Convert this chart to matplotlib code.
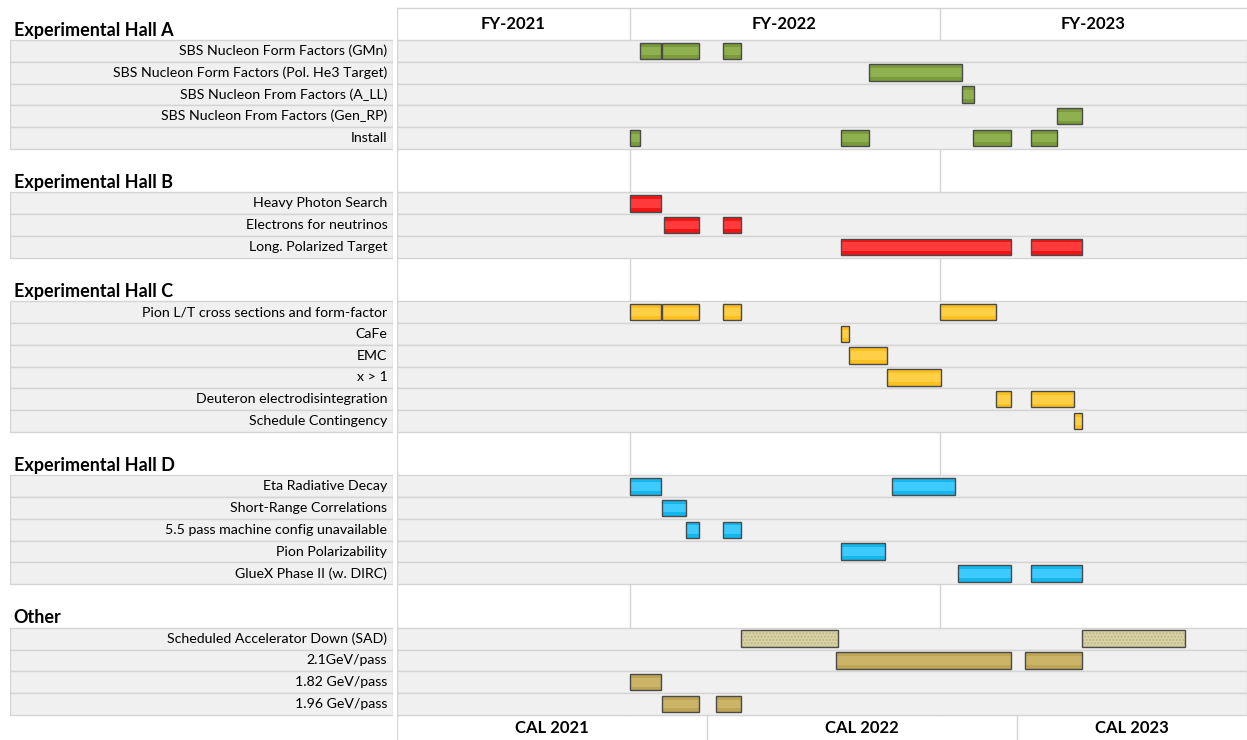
import matplotlib.pyplot as plt
from matplotlib.patches import Rectangle

plt.rcParams['font.family'] = ['Lato', 'DejaVu Sans']

# bars are (start, end) in months counted from Jan 2021
hall_a_labels = ['SBS Nucleon Form Factors (GMn)',
                 'SBS Nucleon Form Factors (Pol. He3 Target)',
                 'SBS Nucleon From Factors (A_LL)',
                 'SBS Nucleon From Factors (Gen_RP)',
                 'Install']
hall_a_bars = [[(9.4, 10.2), (10.25, 11.7), (12.6, 13.3)],
               [(18.25, 21.85)],
               [(21.85, 22.35)],
               [(25.55, 26.5)],
               [(9.0, 9.4), (17.2, 18.25), (22.3, 23.75), (24.55, 25.55)]]

hall_b_labels = ['Heavy Photon Search', 'Electrons for neutrinos', 'Long. Polarized Target']
hall_b_bars = [[(9.0, 10.2)],
               [(10.35, 11.7), (12.6, 13.3)],
               [(17.2, 23.75), (24.55, 26.5)]]

hall_c_labels = ['Pion L/T cross sections and form-factor', 'CaFe', 'EMC', 'x > 1',
                 'Deuteron electrodisintegration', 'Schedule Contingency']
hall_c_bars = [[(9.0, 10.2), (10.25, 11.7), (12.6, 13.3), (21.0, 23.2)],
               [(17.2, 17.5)],
               [(17.5, 18.95)],
               [(18.95, 21.05)],
               [(23.2, 23.75), (24.55, 26.2)],
               [(26.2, 26.5)]]

hall_d_labels = ['Eta Radiative Decay', 'Short-Range Correlations',
                 '5.5 pass machine config unavailable', 'Pion Polarizability',
                 'GlueX Phase II (w. DIRC)']
hall_d_bars = [[(9.0, 10.2), (19.15, 21.6)],
               [(10.25, 11.2)],
               [(11.2, 11.7), (12.6, 13.3)],
               [(17.2, 18.9)],
               [(21.7, 23.75), (24.55, 26.5)]]

other_labels = ['Scheduled Accelerator Down (SAD)', '2.1GeV/pass', '1.82 GeV/pass', '1.96 GeV/pass']
other_bars = [[(13.3, 17.05), (26.5, 30.5)],
              [(17.0, 23.75), (24.3, 26.5)],
              [(9.0, 10.2)],
              [(10.25, 11.7), (12.35, 13.3)]]

fy_labels = ['FY-2021', 'FY-2022', 'FY-2023']
fy_bounds = [0, 9, 21, 32.9]
cal_labels = ['CAL 2021', 'CAL 2022', 'CAL 2023']
cal_bounds = [0, 12, 24, 32.9]

sections = [
    ('Experimental Hall A', hall_a_labels, hall_a_bars, '#7a9a3c', '#8fb04e'),
    ('Experimental Hall B', hall_b_labels, hall_b_bars, '#f01414', '#ff3a3a'),
    ('Experimental Hall C', hall_c_labels, hall_c_bars, '#fcc020', '#ffcf45'),
    ('Experimental Hall D', hall_d_labels, hall_d_bars, '#14b6ee', '#3ccaff'),
    ('Other', other_labels, other_bars, '#bea556', '#cbb468'),
]

W, H = 1247, 740
fig = plt.figure(figsize=(W / 100, H / 100), dpi=100)
ax = fig.add_axes([397 / W, 0, 850 / W, 1])
lab = fig.add_axes([10 / W, 0, 383 / W, 1])

row_px = 21.77
ytop = -40 / row_px
ybot = (H - 40) / row_px
for a in (ax, lab):
    a.set_ylim(ybot, ytop)
    a.axis('off')
ax.set_xlim(0, 32.9)
lab.set_xlim(0, 1)

grid = '#d4d4d4'
rowface = '#f0f0f0'
edge = '#4a4a4a'

last_row = 30
# vertical lines behind rows
for x in [0] + fy_bounds[1:3]:
    ax.plot([x, x], [(8 - 40) / row_px, last_row + 1], color=grid, lw=1, zorder=0)
ax.plot([0, 32.9], [(8 - 40) / row_px] * 2, color=grid, lw=1, zorder=0)
for x in cal_bounds[:3]:
    ax.plot([x, x], [last_row + 1, ybot], color=grid, lw=1, zorder=0)

for i, name in enumerate(fy_labels):
    ax.text((fy_bounds[i] + fy_bounds[i + 1]) / 2, (24 - 40) / row_px, name,
            ha='center', va='center', fontsize=12, fontweight='bold')
for i, name in enumerate(cal_labels):
    ax.text((cal_bounds[i] + cal_bounds[i + 1]) / 2, (728 - 40) / row_px, name,
            ha='center', va='center', fontsize=12, fontweight='bold')

row = -1
for title, labels, bars, color, light in sections:
    lab.text(0.01, row + 0.55, title, ha='left', va='center', fontsize=13, fontweight='bold')
    row += 1
    for name, spans in zip(labels, bars):
        lab.add_patch(Rectangle((0, row), 1, 1, facecolor=rowface, edgecolor=grid, lw=1, zorder=1))
        ax.add_patch(Rectangle((0, row), 32.9, 1, facecolor=rowface, edgecolor=grid, lw=1, zorder=1))
        lab.text(0.985, row + 0.5, name, ha='right', va='center', fontsize=10.2, zorder=3)
        for s, e in spans:
            if name.startswith('Scheduled'):
                ax.add_patch(Rectangle((s, row + 0.12), e - s, 0.76, facecolor='#d8d2a4',
                                       edgecolor='#bdb58a', hatch='.....', lw=0, zorder=2))
            else:
                ax.add_patch(Rectangle((s, row + 0.12), e - s, 0.76, facecolor=color,
                                       lw=0, zorder=2))
                # lighter band in the middle, like the gradient fill
                ax.add_patch(Rectangle((s, row + 0.3), e - s, 0.4, facecolor=light,
                                       lw=0, zorder=2.5))
            ax.add_patch(Rectangle((s, row + 0.12), e - s, 0.76, fill=False,
                                   edgecolor=edge, lw=1, zorder=3))
        row += 1
    row += 1

fig.savefig('out.png', dpi=100)
